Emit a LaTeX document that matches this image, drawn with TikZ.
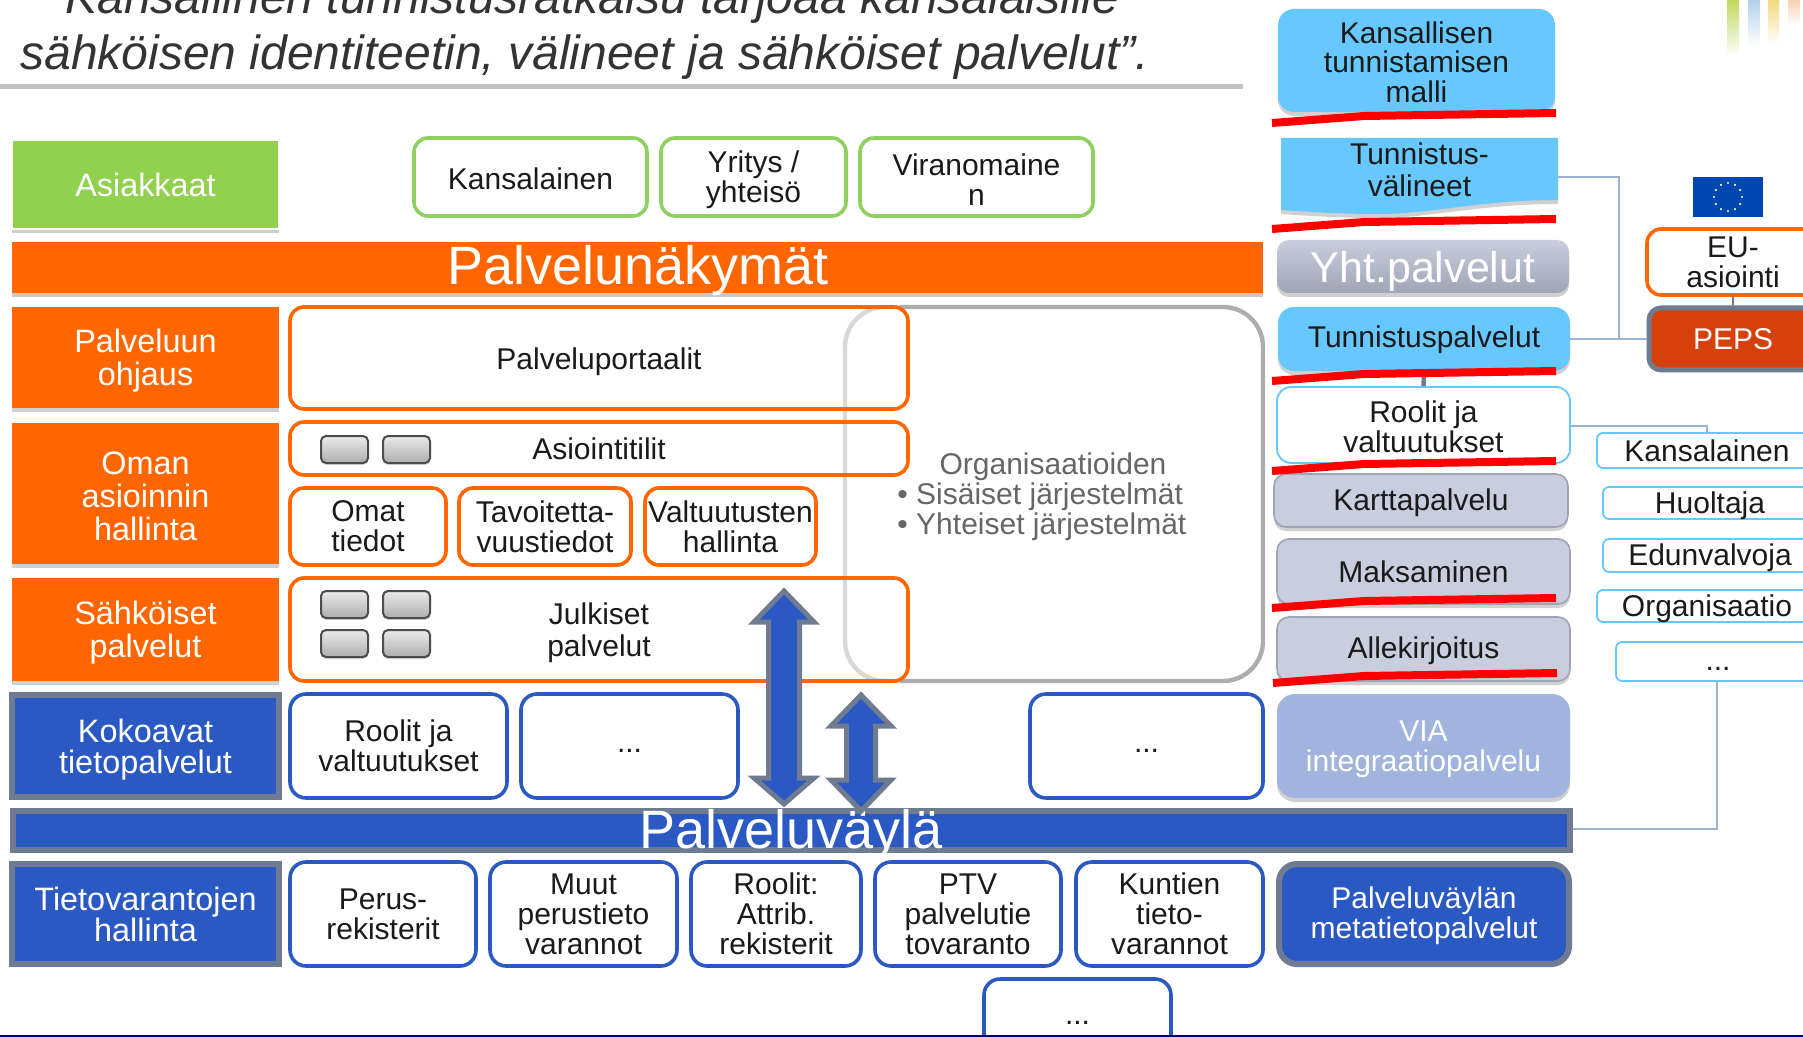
\documentclass[tikz,border=0pt]{standalone}
\usepackage{fontspec}
\setmainfont{Liberation Sans}
\usetikzlibrary{shadows,calc}
\definecolor{cor}{HTML}{FF6600}
\definecolor{cbl}{HTML}{2B59C3}
\definecolor{cbd}{HTML}{6E7B91}
\definecolor{csk}{HTML}{66C8FF}
\definecolor{cgr}{HTML}{92D050}
\definecolor{cgb}{HTML}{8FD060}
\definecolor{cgy}{HTML}{C8CEDE}
\definecolor{cgl}{HTML}{A0A5B5}
\definecolor{cvi}{HTML}{A0B4DE}
\definecolor{cpe}{HTML}{D5400B}
\definecolor{cln}{HTML}{A0B0D0}
\definecolor{ctx}{HTML}{1A1A1A}
\newcommand\dn[1][13pt]{\rule{0pt}{#1}}
\newcommand\mybox[7]{%
  \pgfmathsetmacro\mbw{(#4-#2)/2}%
  \pgfmathsetmacro\mbh{(#5-#3)/2}%
  \pgfmathsetmacro\mbx{(#4+#2)/2}%
  \pgfmathsetmacro\mby{(#5+#3)/2}%
  \node[#6,minimum width=\mbw pt,minimum height=\mbh pt,inner sep=0pt,align=center] (#1) at (\mbx,\mby) {#7};%
}
\tikzset{
  txt/.style={font=\fontsize{15}{15}\selectfont,text=ctx},
  sh/.style={drop shadow={shadow xshift=0pt,shadow yshift=-2pt,opacity=.3,fill=black!60}},
  lblgreen/.style={txt,fill=cgr,draw=white,line width=1pt,text=white,sh,font=\fontsize{16.2}{16}\selectfont},
  lblor/.style={txt,fill=cor,text=white,sh,font=\fontsize{16.2}{16.6}\selectfont},
  lblbl/.style={txt,fill=cbl,draw=cbd,line width=3pt,text=white,font=\fontsize{16.2}{15.5}\selectfont},
  gbox/.style={txt,draw=cgb,fill=white,line width=1.8pt,rounded corners=7pt},
  obox/.style={txt,draw=cor,fill=white,line width=1.8pt,rounded corners=7pt},
  otrans/.style={obox,fill=none},
  bbox/.style={txt,draw=cbl,fill=white,line width=1.8pt,rounded corners=8pt},
  skybox/.style={txt,fill=csk,rounded corners=8pt,sh},
  greybox/.style={txt,fill=cgy,draw=cgl,line width=.8pt,rounded corners=6pt,sh},
  roleb/.style={txt,draw=csk,fill=white,line width=.9pt,rounded corners=3pt},
  btn/.style={draw=black!70,line width=1pt,rounded corners=2.5pt,top color=black!8,bottom color=black!32,
    drop shadow={shadow xshift=0pt,shadow yshift=-1pt,opacity=.3}},
  conn/.style={draw=cln,line width=.7pt},
  redline/.style={draw=red,line width=4pt},
  barrow/.style={fill=cbl,draw=cbd,line width=2.5pt,line join=miter,miter limit=10},
  bigtxt/.style={inner sep=0pt,text=white,font=\fontsize{27}{28}\selectfont},
  orgtxt/.style={inner sep=0pt,font=\fontsize{15}{15}\selectfont,text=black!60}
}
\begin{document}
\begin{tikzpicture}[x=.5pt,y=-.5pt]
\clip (0,0) rectangle (1803,1037);
\fill[white] (0,0) rectangle (1803,1037);
% logo bars
\shade[top color={rgb,255:red,190;green,215;blue,90},bottom color=white] (1727,-2) rectangle (1739,57);
\shade[top color={rgb,255:red,175;green,205;blue,235},bottom color=white] (1748,-2) rectangle (1760,45);
\shade[top color={rgb,255:red,245;green,215;blue,120},bottom color=white] (1768,-2) rectangle (1779,45);
\shade[top color={rgb,255:red,250;green,205;blue,170},bottom color=white] (1788,-2) rectangle (1800,25);
% title
\mybox{titlebox}{-20}{-20}{1243}{84}{fill=white,drop shadow={shadow xshift=0pt,shadow yshift=-2.5pt,opacity=.4,fill=black!60}}{}
\node[anchor=base west,inner sep=0pt,font=\fontsize{24}{24}\selectfont\itshape,text=black!80] (t1) at (65,14) {Kansallinen tunnistusratkaisu tarjoaa kansalaisille};
\node[anchor=base west,inner sep=0pt,font=\fontsize{24}{24}\selectfont\itshape,text=black!80] (t2) at (20,70) {sähköisen identiteetin, välineet ja sähköiset palvelut”.};
% left labels
\mybox{asi}{12}{140}{279}{229}{lblgreen}{Asiakkaat}
\mybox{po}{12}{307}{279}{408}{lblor}{\dn[15pt]Palveluun\\ohjaus}
\mybox{oa}{12}{423}{279}{564}{lblor}{\dn[14pt]Oman\\asioinnin\\hallinta}
\mybox{sp}{12}{578}{279}{681}{lblor}{\dn[15pt]Sähköiset\\palvelut}
\mybox{kt}{12}{695}{279}{797}{lblbl}{\dn[15pt]Kokoavat\\tietopalvelut}
\mybox{th}{12}{864}{279}{964}{lblbl}{Tietovarantojen\\hallinta}
% customers
\mybox{c1}{414}{138}{647}{216}{gbox}{\dn[12.5pt]Kansalainen}
\mybox{c2}{661}{138}{846}{216}{gbox}{\dn[14pt]Yritys /\\yhteisö}
\mybox{c3}{860}{138}{1093}{216}{gbox}{\dn[14pt]Viranomaine\\n}
% bar
\mybox{pn}{12}{242}{1263}{293}{fill=cor,drop shadow={shadow xshift=0pt,shadow yshift=-2pt,opacity=.35,fill=black!60}}{}
\node[bigtxt] (pnt) at (638,271) {Palvelunäkymät};
% organisation frame
\draw[black!32,line width=2.2pt,rounded corners=20pt] (900,307) -| (1263,681) -- (900,681);
\draw[black!15,line width=2.2pt,rounded corners=20pt] (900,307) -| (845,681) -- (900,681);
\node[orgtxt] (org) at (1053,467) {Organisaatioiden};
\node[orgtxt,anchor=west] (org1) at (897,497) {• Sisäiset järjestelmät};
\node[orgtxt,anchor=west] (org2) at (897,527) {• Yhteiset järjestelmät};
% orange boxes
\mybox{pp}{290}{307}{908}{409}{otrans}{\dn[14.5pt]Palveluportaalit}
\mybox{at}{290}{422}{908}{475}{otrans}{Asiointitilit}
\mybox{ot}{290}{488}{446}{565}{obox}{Omat\\tiedot}
\mybox{tt}{459}{488}{631}{565}{obox}{Tavoitetta-\\vuustiedot}
\mybox{vh}{645}{488}{816}{565}{obox}{Valtuutusten\\hallinta}
\mybox{jp}{290}{578}{908}{681}{otrans,font=\fontsize{15}{16}\selectfont}{\dn[14pt]Julkiset\\palvelut}
% buttons
\mybox{b1}{321}{436}{368}{463}{btn}{}
\mybox{b2}{383}{436}{430}{463}{btn}{}
\mybox{b3}{321}{591}{368}{618}{btn}{}
\mybox{b4}{383}{591}{430}{618}{btn}{}
\mybox{b5}{321}{630}{368}{657}{btn}{}
\mybox{b6}{383}{630}{430}{657}{btn}{}
% blue boxes
\mybox{r1}{290}{694}{507}{798}{bbox}{Roolit ja\\valtuutukset}
\mybox{r2}{521}{694}{738}{798}{bbox}{\strut...}
\mybox{r3}{1030}{694}{1263}{798}{bbox}{\strut...}
\mybox{d1}{290}{862}{476}{966}{bbox}{Perus-\\rekisterit}
\mybox{d2}{490}{862}{677}{966}{bbox}{Muut\\perustieto\\varannot}
\mybox{d3}{691}{862}{861}{966}{bbox}{Roolit:\\Attrib.\\rekisterit}
\mybox{d4}{875}{862}{1061}{966}{bbox}{PTV\\palvelutie\\tovaranto}
\mybox{d5}{1076}{862}{1263}{966}{bbox}{Kuntien\\tieto-\\varannot}
\mybox{d6}{984}{979}{1171}{1057}{bbox}{\strut...}
% service bus
\mybox{pv}{13}{811}{1570}{850}{fill=cbl,draw=cbd,line width=3pt}{}
\node[bigtxt] (pvt) at (791,835) {Palveluväylä};
% block arrows
\draw[barrow] (784,591) -- (814,622) -- (799.5,622) -- (799.5,778) -- (814,778) -- (784,804) -- (754,778) -- (768.5,778) -- (768.5,622) -- (754,622) -- cycle;
\draw[barrow] (861,695) -- (891,726) -- (875.5,726) -- (875.5,780) -- (891,780) -- (861,811) -- (831,780) -- (846.5,780) -- (846.5,726) -- (831,726) -- cycle;
% right column
\mybox{knm}{1278}{9}{1555}{112}{skybox,font=\fontsize{15}{14.7}\selectfont}{\dn[12.5pt]Kansallisen\\tunnistamisen\\malli}
\fill[csk,drop shadow={shadow xshift=0pt,shadow yshift=-2pt,opacity=.3,fill=black!60}] (1281,138) -- (1558,138) -- (1558,200) .. controls (1480,200) and (1430,214) .. (1380,214) .. controls (1340,214) and (1310,212) .. (1281,210) -- cycle;
\mybox{tv}{1281}{138}{1558}{202}{txt,font=\fontsize{15}{16.2}\selectfont}{Tunnistus-\\välineet}
\coordinate (tvport) at (1558,177);
\mybox{yp}{1277}{240}{1569}{293}{txt,text=white,rounded corners=6pt,top color=cgy,bottom color=cgl,font=\fontsize{21.5}{23}\selectfont,sh}{\dn[20.3pt]Yht.palvelut}
\mybox{tp}{1278}{307}{1570}{371}{skybox}{\dn[11.5pt]Tunnistuspalvelut}
\mybox{rv}{1277}{387}{1570}{463}{txt,draw=csk,fill=white,line width=.9pt,rounded corners=7pt}{\dn[12.5pt]Roolit ja\\valtuutukset}
\mybox{kp}{1274}{474}{1568}{527}{greybox}{\dn[13pt]Karttapalvelu}
\mybox{ma}{1277}{539}{1570}{604}{greybox}{Maksaminen}
\mybox{al}{1277}{617}{1570}{681}{greybox}{\dn[13pt]Allekirjoitus}
\mybox{via}{1277}{694}{1570}{798}{txt,fill=cvi,text=white,rounded corners=9pt,sh}{\dn[14pt]VIA\\integraatiopalvelu}
\mybox{mt}{1279}{864}{1569}{964}{txt,fill=cbl,draw=cbd,line width=3pt,text=white,rounded corners=9pt}{\dn[13pt]Palveluväylän\\metatietopalvelut}
% EU side
\fill[blue!60!cyan!70!black] (1693,177) rectangle (1763,217);
\foreach \a in {0,30,...,330}{\fill[white!80!yellow] ($(1728,197)+(\a:14)$) circle (1.2);}
\mybox{eu}{1647}{229}{1840}{295}{draw=cor,fill=white,line width=1.8pt,rounded corners=7pt}{}
\node[inner sep=0pt,txt,align=center] (eut) at (1733,262) {EU-\\asiointi};
\mybox{peps}{1649}{308}{1840}{370}{fill=cpe,draw=cbd,line width=2.5pt,rounded corners=6pt}{}
\node[inner sep=0pt,txt,text=white] (pepst) at (1733,339) {PEPS};
\mybox{k1}{1597}{433}{1840}{468}{roleb}{}
\node[inner sep=0pt,txt] (k1t) at (1707,451) {Kansalainen};
\mybox{k2}{1603}{487}{1840}{519}{roleb}{}
\node[inner sep=0pt,txt] (k2t) at (1710,506) {Huoltaja};
\mybox{k3}{1603}{539}{1840}{572}{roleb}{}
\node[inner sep=0pt,txt] (k3t) at (1710,558) {Edunvalvoja};
\mybox{k4}{1597}{590}{1840}{622}{roleb}{}
\node[inner sep=0pt,txt] (k4t) at (1707,609) {Organisaatio};
\mybox{k5}{1616}{642}{1840}{681}{roleb}{}
\node[inner sep=0pt,txt] (k5t) at (1718,664) {\strut...};
% connectors
\coordinate (j1) at (1619,339);
\coordinate (j2) at (1707,426);
\coordinate (k1top) at (1707,433);
\coordinate (k5bot) at (1717,681);
\coordinate (j3) at (1717,829);
\draw[conn] (tvport) -| (j1);
\draw[conn] (tp.east) -- (peps.west);
\draw[conn] (rv.east |- j2) -- (j2) -- (k1top);
\draw[conn] (pv.east |- j3) -- (j3) -- (k5bot);
\draw[cbd,line width=.9pt] (1733,295) -- (1733,308);
\draw[cbd,line width=2.2pt] (tp.south) -- (rv.north);
% red strokes
\draw[redline] (1272,123) -- (1364,116) -- (1556,113);
\draw[redline] (1272,229) -- (1364,222) -- (1556,219);
\draw[redline] (1272,381) -- (1364,374) -- (1556,371);
\draw[redline] (1272,471) -- (1364,464) -- (1556,461);
\draw[redline] (1272,608) -- (1364,601) -- (1556,598);
\draw[redline] (1273,683) -- (1364,676) -- (1557,673);
% bottom rule
\draw[blue!40!black,line width=1pt] (0,1036) -- (1803,1036);
\end{tikzpicture}
\end{document}
